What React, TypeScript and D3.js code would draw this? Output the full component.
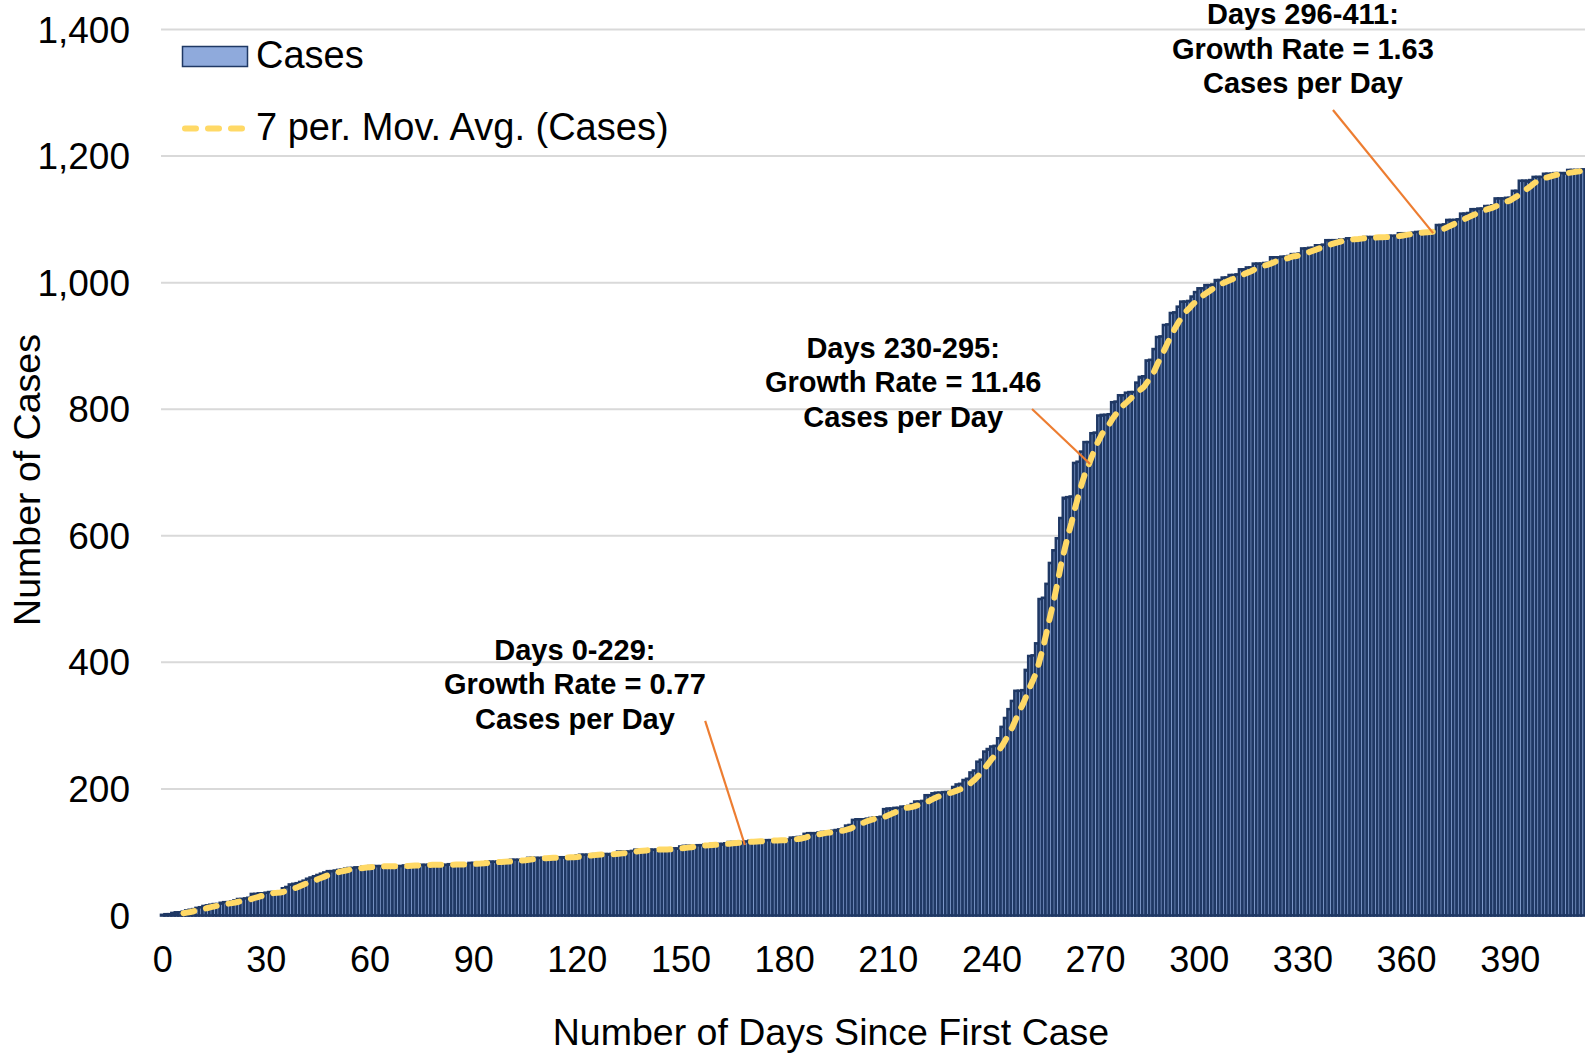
import React from "react";
import * as d3 from "d3";

// Cumulative cases by day since first case (days 0..411)
const cases: number[] = [
  1, 2, 2, 4, 5, 5, 6, 8, 9, 10,
  12, 13, 15, 16, 17, 18, 18, 20, 21, 21,
  22, 24, 26, 26, 27, 28, 34, 34, 35, 35,
  36, 37, 37, 37, 38, 43, 45, 49, 50, 51,
  53, 55, 58, 60, 62, 64, 66, 68, 70, 70,
  71, 72, 73, 74, 75, 75, 76, 76, 77, 77,
  78, 78, 78, 78, 78, 78, 78, 78, 78, 78,
  79, 79, 80, 80, 80, 80, 80, 80, 80, 80,
  80, 80, 80, 81, 81, 81, 81, 81, 81, 83,
  83, 83, 83, 84, 85, 85, 85, 85, 85, 85,
  86, 88, 88, 88, 88, 88, 91, 91, 91, 91,
  91, 91, 91, 92, 92, 92, 92, 92, 92, 92,
  95, 96, 96, 96, 96, 97, 97, 97, 97, 97,
  97, 97, 101, 101, 101, 101, 102, 104, 104, 104,
  104, 104, 104, 104, 105, 105, 105, 105, 106, 106,
  109, 110, 110, 110, 110, 111, 111, 112, 112, 113,
  113, 113, 113, 114, 116, 116, 116, 116, 116, 117,
  118, 118, 118, 118, 118, 119, 119, 119, 119, 119,
  119, 120, 123, 123, 124, 124, 129, 130, 130, 130,
  131, 132, 132, 133, 134, 135, 136, 137, 142, 143,
  151, 152, 152, 152, 153, 154, 155, 155, 156, 168,
  169, 169, 170, 170, 172, 172, 173, 176, 180, 180,
  181, 190, 190, 193, 194, 194, 195, 195, 196, 203,
  207, 208, 214, 216, 226, 229, 243, 246, 259, 263,
  267, 268, 280, 298, 312, 326, 339, 355, 355, 356,
  388, 410, 411, 430, 500, 502, 524, 557, 577, 596,
  628, 660, 661, 662, 715, 717, 733, 748, 748, 762,
  763, 790, 791, 791, 792, 811, 812, 822, 822, 826,
  827, 827, 842, 851, 852, 877, 878, 895, 914, 915,
  933, 934, 952, 953, 962, 970, 970, 971, 978, 985,
  991, 991, 996, 996, 997, 1004, 1004, 1008, 1008, 1012,
  1012, 1013, 1021, 1021, 1024, 1024, 1030, 1030, 1030, 1031,
  1031, 1040, 1040, 1040, 1041, 1041, 1042, 1045, 1045, 1046,
  1054, 1054, 1055, 1055, 1059, 1059, 1060, 1067, 1067, 1067,
  1067, 1068, 1068, 1070, 1070, 1070, 1070, 1071, 1072, 1072,
  1072, 1072, 1072, 1072, 1072, 1074, 1074, 1074, 1078, 1078,
  1078, 1078, 1079, 1080, 1080, 1081, 1081, 1081, 1082, 1091,
  1091, 1092, 1099, 1099, 1099, 1100, 1109, 1109, 1110, 1116,
  1116, 1117, 1117, 1121, 1121, 1122, 1133, 1133, 1133, 1134,
  1134, 1145, 1145, 1161, 1161, 1161, 1162, 1167, 1167, 1167,
  1172, 1172, 1172, 1173, 1173, 1173, 1173, 1178, 1178, 1178,
  1178, 1179,
];

const days: number[] = cases.map((_, i) => i);
const xTickDays: number[] = [0, 30, 60, 90, 120, 150, 180, 210, 240, 270, 300, 330, 360, 390];
const yTicks: number[] = [0, 200, 400, 600, 800, 1000, 1200, 1400];
const movAvgPeriod = 7;

const annotationLines: string[][] = [
  ["Days 0-229:", "Growth Rate = 0.77", "Cases per Day"],
  ["Days 230-295:", "Growth Rate = 11.46", "Cases per Day"],
  ["Days 296-411:", "Growth Rate = 1.63", "Cases per Day"],
];
// label anchor (day, value) and leader line from/to (day, value)
const annotationAnchor: [number, number][] = [[119.3, 404.5], [214.3, 881.6], [330.0, 1408.6]];
const leaderFrom: [number, number][] = [[157.0, 307.4], [251.6, 800.3], [338.7, 1272.7]];
const leaderTo: [number, number][] = [[168.5, 111.4], [268.4, 713.4], [367.7, 1078.3]];

const W = 1585;
const H = 1053;
const FONT = "'Liberation Sans', Arial, sans-serif";

export default function App() {
  const x = d3.scaleBand<number>().domain(days).range([161, 1584.5]).padding(0);
  const y = d3.scaleLinear().domain([0, 1400]).range([915.5, 29.5]);
  const bw = x.bandwidth();
  const xc = (d: number) => (x(Math.floor(d)) ?? 0) + (d - Math.floor(d)) * bw + bw / 2;
  const xcont = (d: number) => 161 + (d + 0.5) * bw;

  const ma: [number, number][] = [];
  for (let i = movAvgPeriod - 1; i < cases.length; i++) {
    const avg = d3.mean(cases.slice(i - movAvgPeriod + 1, i + 1)) as number;
    ma.push([i, avg]);
  }
  const line = d3
    .line<[number, number]>()
    .x((d) => xc(d[0]))
    .y((d) => y(d[1]));

  const dash = "11 12";

  return (
    <svg
      width={W}
      height={H}
      style={{ position: "absolute", left: 0, top: 0, background: "#fff" }}
      fontFamily={FONT}
    >
      {/* gridlines */}
      {yTicks.map((t) => (
        <line key={"g" + t} x1={161} x2={1585} y1={y(t)} y2={y(t)} stroke="#d9d9d9" strokeWidth={2} />
      ))}
      {/* bars */}
      <g>
        {cases.map((v, i) => (
          <rect
            key={i}
            x={x(i)}
            y={y(v)}
            width={bw}
            height={Math.max(0, y(0) - y(v))}
            fill="#8faadc"
            stroke="#1f3864"
            strokeWidth={2.6}
          />
        ))}
      </g>
      {/* moving average */}
      <path
        d={line(ma) || ""}
        fill="none"
        stroke="#ffd966"
        strokeWidth={6}
        strokeDasharray={dash}
        strokeLinecap="round"
        strokeLinejoin="round"
      />
      {/* y tick labels */}
      {yTicks.map((t) => (
        <text key={"y" + t} x={130} y={y(t) + 13} textAnchor="end" fontSize={37} fill="#000">
          {d3.format(",")(t)}
        </text>
      ))}
      {/* x tick labels */}
      {xTickDays.map((d) => (
        <text key={"x" + d} x={xc(d)} y={972} textAnchor="middle" fontSize={36} fill="#000">
          {d}
        </text>
      ))}
      {/* axis titles */}
      <text x={831} y={1045} textAnchor="middle" fontSize={37.5} fill="#000">
        Number of Days Since First Case
      </text>
      <text transform="translate(40,480) rotate(-90)" textAnchor="middle" fontSize={37.5} fill="#000">
        Number of Cases
      </text>
      {/* legend */}
      <rect x={182.5} y={46.5} width={65} height={20} fill="#8faadc" stroke="#1f3864" strokeWidth={1.5} />
      <text x={256} y={68} fontSize={38} fill="#000">
        Cases
      </text>
      <line
        x1={185}
        x2={247}
        y1={128.5}
        y2={128.5}
        stroke="#ffd966"
        strokeWidth={6}
        strokeDasharray={dash}
        strokeLinecap="round"
      />
      <text x={256} y={140} fontSize={38} fill="#000">
        7 per. Mov. Avg. (Cases)
      </text>
      {/* annotations */}
      {annotationLines.map((lines, k) => (
        <g key={"a" + k}>
          <line
            x1={xcont(leaderFrom[k][0])}
            y1={y(leaderFrom[k][1])}
            x2={xcont(leaderTo[k][0])}
            y2={y(leaderTo[k][1])}
            stroke="#ed7d31"
            strokeWidth={2.2}
          />
          {lines.map((s, j) => (
            <text
              key={j}
              x={xcont(annotationAnchor[k][0])}
              y={y(annotationAnchor[k][1]) + j * 34.5}
              textAnchor="middle"
              fontSize={29}
              fontWeight="bold"
              fill="#000"
            >
              {s}
            </text>
          ))}
        </g>
      ))}
    </svg>
  );
}
